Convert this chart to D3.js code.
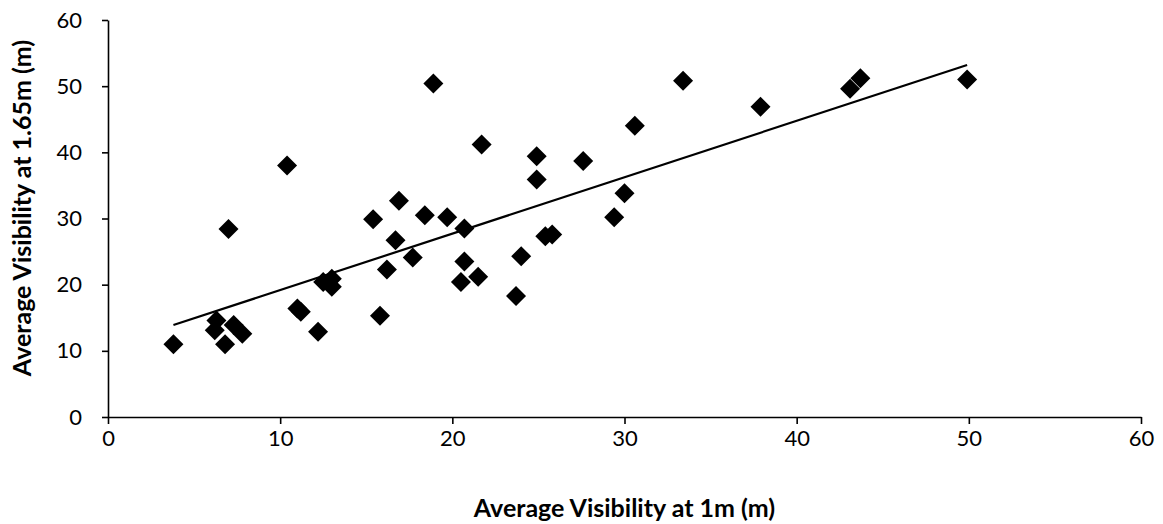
<!DOCTYPE html>
<head>
  <style>
    body { margin: 0; background: #fff; }
    text { font-family: Lato, "Open Sans", sans-serif; fill: #000; }
  </style>
<title>Average Visibility</title>
</head>
<body>
  <script src="https://cdn.jsdelivr.net/npm/d3@7"></script>
  <script>
    // values
    var visAt1m = [3.8, 6.3, 6.2, 6.8, 7.3, 7.8, 7.0, 10.4, 11.0, 11.2, 12.2, 12.5, 13.0, 13.0,
                   15.4, 15.8, 16.2, 16.7, 16.9, 17.7, 18.4, 18.9, 19.7, 20.7, 20.7, 20.5, 21.5,
                   21.7, 24.9, 24.9, 27.6, 30.6, 33.4, 37.9, 30.0, 29.4, 25.4, 25.8, 24.0, 23.7,
                   43.1, 43.7, 49.9];
    var visAt165m = [11.0, 14.6, 13.1, 11.0, 13.9, 12.6, 28.4, 38.0, 16.4, 15.9, 12.9, 20.4, 20.9, 19.7,
                     29.9, 15.3, 22.3, 26.7, 32.7, 24.1, 30.5, 50.4, 30.2, 28.5, 23.5, 20.4, 21.2,
                     41.2, 39.4, 35.9, 38.7, 44.0, 50.8, 46.9, 33.8, 30.2, 27.3, 27.6, 24.3, 18.3,
                     49.6, 51.2, 51.0];
    var trendX = [3.8, 49.9];
    var trendY = [13.9, 53.2];
    var xTicks = [0, 10, 20, 30, 40, 50, 60];
    var yTicks = [0, 10, 20, 30, 40, 50, 60];

    var margin = {top: 20, right: 22, bottom: 107, left: 108},
      width = 1163 - margin.left - margin.right,
      height = 524 - margin.top - margin.bottom;

    var x = d3.scaleLinear().domain([0, 60]).range([0, width]);
    var y = d3.scaleLinear().domain([0, 60]).range([height, 0]);

    var svg = d3.select("body").append("svg")
      .attr("width", 1163)
      .attr("height", 524)
      .append("g")
      .attr("transform", "translate(" + margin.left + "," + margin.top + ")");

    // X axis
    var xAxis = svg.append("g")
      .attr("transform", "translate(0," + height + ")")
      .call(d3.axisBottom(x).tickValues(xTicks).tickSize(7).tickPadding(6).tickSizeOuter(0));
    xAxis.selectAll("text").style("font-size", "22px");

    // Y axis
    var yAxis = svg.append("g")
      .call(d3.axisLeft(y).tickValues(yTicks).tickSize(6).tickPadding(20).tickSizeOuter(0));
    yAxis.selectAll("text").style("font-size", "22px");

    svg.selectAll(".domain, .tick line").attr("stroke", "#000").attr("stroke-width", 1.6);

    // trend line
    svg.append("line")
      .attr("x1", x(trendX[0])).attr("y1", y(trendY[0]))
      .attr("x2", x(trendX[1])).attr("y2", y(trendY[1]))
      .attr("stroke", "#000").attr("stroke-width", 2.2);

    // points
    var diamond = d3.symbol().type(d3.symbolSquare).size(200);
    svg.selectAll(".pt")
      .data(visAt1m)
      .enter().append("path")
      .attr("class", "pt")
      .attr("d", diamond)
      .attr("transform", function(d, i) {
        return "translate(" + x(d) + "," + y(visAt165m[i]) + ") rotate(45)";
      })
      .attr("fill", "#000");

    // axis labels
    svg.append("text")
      .attr("x", width / 2)
      .attr("y", height + 100)
      .style("text-anchor", "middle")
      .style("font-size", "25px")
      .style("font-weight", "bold")
      .text("Average Visibility at 1m (m)");

    svg.append("text")
      .attr("transform", "rotate(-90)")
      .attr("x", -188)
      .attr("y", -77)
      .style("text-anchor", "middle")
      .style("font-size", "25px")
      .style("font-weight", "bold")
      .text("Average Visibility at 1.65m (m)");
  </script>
</body>
